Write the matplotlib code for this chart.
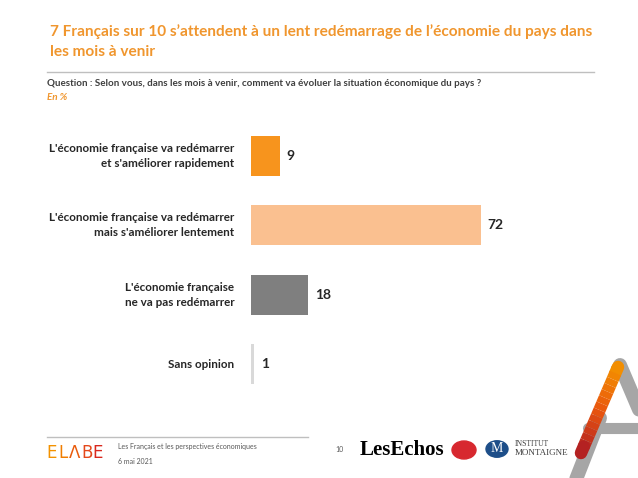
import matplotlib
matplotlib.use("Agg")
import matplotlib.pyplot as plt
import matplotlib.colors as mcolors
from matplotlib.patches import Circle
from matplotlib.lines import Line2D

categories = [
    "L'économie française va redémarrer\net s'améliorer rapidement",
    "L'économie française va redémarrer\nmais s'améliorer lentement",
    "L'économie française\nne va pas redémarrer",
    "Sans opinion",
]
values = [9, 72, 18, 1]
colors = ["#F7941D", "#FAC090", "#7F7F7F", "#D9D9D9"]

title = "7 Français sur 10 s’attendent à un lent redémarrage de l’économie du pays dans\nles mois à venir"
question = "Question : Selon vous, dans les mois à venir, comment va évoluer la situation économique du pays ?"

FONT = ["Lato", "Open Sans", "DejaVu Sans"]
plt.rcParams['font.family'] = FONT

W, H = 638, 478
fig = plt.figure(figsize=(W / 100, H / 100), dpi=100)
fig.patch.set_facecolor("white")

def fx(x):
    return x / W

def fy(y):
    return 1 - y / H

# main bar axes
ax = fig.add_axes([fx(251), fy(399), fx(570) - fx(251), (399 - 121) / H])
y = list(range(len(categories)))
ax.barh(y, values, height=0.577, color=colors)
ax.set_xlim(0, 100)
ax.set_ylim(3.5, -0.5)
ax.axis("off")
for yi, v in zip(y, values):
    ax.annotate(str(v), (v, yi), xytext=(5, 0), textcoords="offset points",
                ha="left", va="center", fontsize=10, fontweight="bold", color="#262626")
for yi, c in zip(y, categories):
    ax.annotate(c, (0, yi), xytext=(-12, 0), textcoords="offset points",
                ha="right", va="center", fontsize=8.4, fontweight="bold",
                color="#262626", linespacing=1.4, multialignment="right")

# title
fig.text(fx(50), fy(41.5), title, ha="left", va="center", fontsize=11.1, fontweight="bold",
         color="#F0962E", linespacing=1.5)

# separator
fig.add_artist(Line2D([fx(47), fx(594)], [fy(72), fy(72)], color="#BFBFBF", lw=1))
fig.text(fx(47), fy(83), question, ha="left", va="center", fontsize=7.15, fontweight="bold", color="#404040")
fig.text(fx(47), fy(98), "En %", ha="left", va="center", fontsize=7.15, fontstyle="italic",
         fontweight="bold", color="#F0962E")

# footer
fig.add_artist(Line2D([fx(47), fx(308)], [fy(437), fy(437)], color="#BFBFBF", lw=1))
elabe_cols = ["#F39200", "#F07D00", "#E95B0C", "#E4481B", "#D9281E"]
xs = [46, 58, 69, 81, 92]
for ch, c, xx in zip("ELABE", elabe_cols, xs):
    fig.text(fx(xx), fy(453), "Λ" if ch == "A" else ch, ha="left", va="center",
             fontsize=12, color=c, family=["DejaVu Sans"])
fig.text(fx(118), fy(447), "Les Français et les perspectives économiques", ha="left", va="center",
         fontsize=5, color="#595959")
fig.text(fx(118), fy(462), "6 mai 2021", ha="left", va="center", fontsize=5, color="#595959")
fig.text(fx(335), fy(449), "10", ha="left", va="center", fontsize=5, color="#595959")

fig.text(fx(360), fy(450), "LesEchos", ha="left", va="center", fontsize=15, fontweight="bold",
         color="black", family=["Liberation Serif", "DejaVu Serif"])
fig.add_artist(Circle((fx(464), fy(450)), 12 / W, color="#D7282F", transform=fig.transFigure))
fig.add_artist(Circle((fx(497), fy(449)), 11 / W, color="#1D4E89", transform=fig.transFigure))
fig.text(fx(497), fy(449), "M", ha="center", va="center", fontsize=10, color="white",
         family=["Liberation Serif", "DejaVu Serif"])
fig.text(fx(515), fy(444), "INSTITUT", ha="left", va="center", fontsize=5.5, color="#404040",
         family=["Liberation Serif", "DejaVu Serif"])
fig.text(fx(515), fy(453), "MONTAIGNE", ha="left", va="center", fontsize=6.5, color="#404040",
         family=["Liberation Serif", "DejaVu Serif"])

# big A logo
def seg(x0, y0, x1, y1, color, lw):
    fig.add_artist(Line2D([fx(x0), fx(x1)], [fy(y0), fy(y1)], color=color, lw=lw,
                          solid_capstyle="round"))

seg(620, 365, 660, 459, "#A6A6A6", 10)
seg(575, 482, 600, 418, "#A6A6A6", 10)
seg(588, 428, 650, 428, "#A6A6A6", 8)
n = 14
grad = [mcolors.to_rgb(c) for c in ["#F39200", "#E9560E", "#B01E23"]]
def gcol(t):
    if t < 0.5:
        a, b, u = grad[0], grad[1], t / 0.5
    else:
        a, b, u = grad[1], grad[2], (t - 0.5) / 0.5
    return tuple(a[k] * (1 - u) + b[k] * u for k in range(3))
for i in range(n):
    t0, t1 = i / n, (i + 1) / n
    x0 = 618 + (581 - 618) * t0
    y0 = 367 + (453 - 367) * t0
    x1 = 618 + (581 - 618) * t1
    y1 = 367 + (453 - 367) * t1
    fig.add_artist(Line2D([fx(x0), fx(x1)], [fy(y0), fy(y1)], color=gcol((t0 + t1) / 2), lw=9,
                          solid_capstyle="round" if i in (0, n - 1) else "butt"))
fig.add_artist(Circle((fx(618), fy(368)), 6 / W, color="#9A5B00", transform=fig.transFigure))

fig.savefig("out.png", dpi=100, facecolor="white")
